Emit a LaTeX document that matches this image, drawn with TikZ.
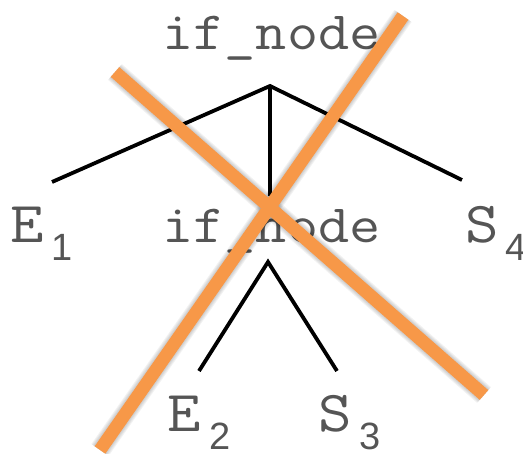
\documentclass[tikz,border=0pt]{standalone}
\usepackage{fontspec}
\setmainfont{Liberation Sans}
\newfontfamily\monof[FakeStretch=1.12]{Latin Modern Mono}
\newfontfamily\subf{Liberation Sans}
\definecolor{txtgray}{RGB}{85,85,85}
\definecolor{crossorange}{RGB}{247,152,72}
\begin{document}
\begin{tikzpicture}[x=1pt,y=-1pt,
  lbl/.style={inner sep=0pt, outer sep=0pt, text=txtgray},
  codetxt/.style={lbl, anchor=base, font=\monof\fontsize{54}{54}\selectfont},
  vartxt/.style={lbl, anchor=base west, font=\monof\fontsize{58}{58}\selectfont},
  subtxt/.style={lbl, anchor=base west, font=\subf\fontsize{38}{38}\selectfont},
  branch/.style={draw=black, line width=3.8pt},
  crossline/.style={draw=crossorange, line width=13pt, line cap=butt},
  crossshadow/.style={draw=black, line cap=butt, opacity=0.05}
]
\useasboundingbox (0,0) rectangle (523,454);

% text nodes
\node[codetxt] (top) at (271.5,50) {if\_node};
\node[codetxt] (mid) at (271.5,243) {if\_node};
\node[vartxt] (e1) at (10,243) {E};
\node[subtxt] (e1s) at (52,261) {1};
\node[vartxt] (s4) at (465,243) {S};
\node[subtxt] (s4s) at (505,261) {4};
\node[vartxt] (e2) at (167,432) {E};
\node[subtxt] (e2s) at (209,450) {2};
\node[vartxt] (s3) at (318,432) {S};
\node[subtxt] (s3s) at (359,450) {3};

% branch coordinates
\coordinate (apexA) at (270,86);
\coordinate (endL) at (52,182);
\coordinate (endM) at (270,196);
\coordinate (endR) at (462,180);
\coordinate (apexB) at (268,262);
\coordinate (endBL) at (199,371);
\coordinate (endBR) at (337,371);

\draw[branch] (endL) -- (apexA) -- (endR);
\draw[branch] (apexA) -- (endM);
\draw[branch] (endBL) -- (apexB) -- (endBR);

% cross
\coordinate (xa1) at (115,72);
\coordinate (xa2) at (484,395);
\coordinate (xb1) at (403,16);
\coordinate (xb2) at (100,450);

\foreach \w in {21,19,17,15}{
  \draw[crossshadow, line width=\w pt, shift={(2,4)}] (xa1) -- (xa2);
  \draw[crossshadow, line width=\w pt, shift={(2,4)}] (xb1) -- (xb2);
}
\draw[crossline] (xb1) -- (xb2);
\draw[crossline] (xa1) -- (xa2);
\end{tikzpicture}
\end{document}
